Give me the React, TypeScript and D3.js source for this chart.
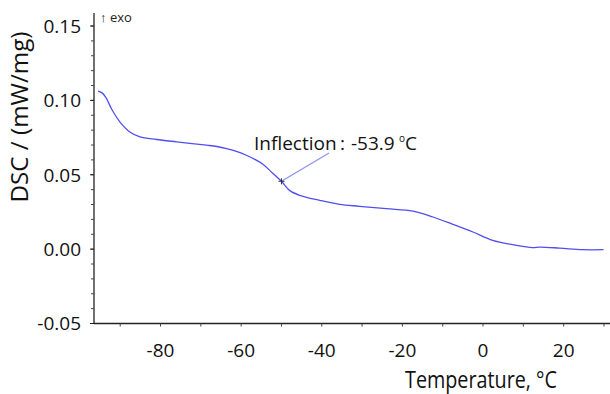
import React from 'react';
import * as d3 from 'd3';

// DSC trace
const temperature = [
	-95.5, -94.6, -93.6, -92.1, -90.1, -87.6, -85.1, -81.0, -76.0, -68.6, -66.0, -63.6, -61.0, -58.7,
	-56.6, -54.6, -52.3, -50.0, -48.0, -45.5, -40.5, -35.6, -30.6, -24.0, -17.4, -12.4, -7.5, -2.5, 2.4,
	7.4, 12.3, 14.0, 19.0, 24.7, 29.9,
];
const dsc = [
	0.1062, 0.1052, 0.1022, 0.0940, 0.0856, 0.0788, 0.0755, 0.0737, 0.0721, 0.0699, 0.0690, 0.0676,
	0.0656, 0.0631, 0.0603, 0.0571, 0.0514, 0.0456, 0.0395, 0.0362, 0.0328, 0.0301, 0.0288, 0.0272,
	0.0256, 0.0216, 0.0167, 0.0115, 0.0059, 0.0030, 0.0010, 0.0014, 0.0007, -0.0004, -0.0004,
];
const yTicks = [-0.05, 0, 0.05, 0.1, 0.15];
const xTicks = [-80, -60, -40, -20, 0, 20];
const inflection = { t: -50.0, v: 0.0456, label: '-53.9' };

export default function App() {
	const width = 610,
		height = 394;
	const x = d3.scaleLinear().domain([-96.5, 31.5]).range([94, 610]);
	const y = d3.scaleLinear().domain([-0.05, 0.15]).range([323.5, 26]);
	const yTop = y.invert(13);

	const points = temperature.map((t, i) => [t, dsc[i]] as [number, number]);
	const line = d3
		.line<[number, number]>()
		.x((d) => x(d[0]))
		.y((d) => y(d[1]))
		.curve(d3.curveCatmullRom.alpha(0.5));

	const yMinor = d3.range(-0.05, 0.1501, 0.01);
	const xMinor = d3.range(-90, 31, 10);
	const font = "'Open Sans', sans-serif";
	const fmt = (v: number) => d3.format('.2f')(v).replace('\u2212', '-');
	const ix = x(inflection.t),
		iy = y(inflection.v);

	return (
		<svg
			width={width}
			height={height}
			style={{ position: 'absolute', left: 0, top: 0, background: '#fff' }}
			fontFamily={font}
		>
			{/* axes */}
			<line x1={x.range()[0]} x2={x.range()[0]} y1={y(yTop)} y2={y(-0.05)} stroke="#222" strokeWidth={1.3} />
			<line x1={x.range()[0]} x2={x.range()[1]} y1={y(-0.05)} y2={y(-0.05)} stroke="#222" strokeWidth={1.3} />
			{yMinor.map((v, i) => (
				<line key={'ym' + i} x1={x.range()[0] - 3} x2={x.range()[0]} y1={y(v)} y2={y(v)} stroke="#444" strokeWidth={1} />
			))}
			{yTicks.map((v) => (
				<g key={'y' + v}>
					<line x1={x.range()[0] - 4} x2={x.range()[0]} y1={y(v)} y2={y(v)} stroke="#222" strokeWidth={1} />
					<text x={81} y={y(v)} dy="0.36em" textAnchor="end" fontSize={19} fill="#111">
						{fmt(v)}
					</text>
				</g>
			))}
			{xMinor.map((t) => (
				<line key={'xm' + t} x1={x(t)} x2={x(t)} y1={y(-0.05)} y2={y(-0.05) + 3} stroke="#444" strokeWidth={1} />
			))}
			{xTicks.map((t) => (
				<text key={'x' + t} x={x(t)} y={357} textAnchor="middle" fontSize={19} fill="#111">
					{t}
				</text>
			))}

			{/* labels */}
			<text
				transform={`translate(28,${117}) rotate(-90)`}
				textAnchor="middle"
				fontSize={23}
				fill="#111"
				textLength={171}
				lengthAdjust="spacingAndGlyphs"
			>
				DSC / (mW/mg)
			</text>
			<text x={405} y={388} fontSize={23} fill="#111" textLength={152} lengthAdjust="spacingAndGlyphs">
				Temperature, °C
			</text>
			<text x={100} y={22} fontSize={13} fill="#222">
				↑ exo
			</text>

			{/* curve */}
			<path d={line(points) || ''} fill="none" stroke="#4f4ff0" strokeWidth={1.3} />

			{/* inflection annotation */}
			<line x1={ix} y1={iy} x2={329} y2={153} stroke="#8c8ef6" strokeWidth={1.2} />
			<path d={`M${ix - 3},${iy}h6M${ix},${iy - 3}v6`} stroke="#333" strokeWidth={1} />
			<text x={254} y={150} fontSize={19} fill="#111">
				Inflection
				<tspan x={340}>:</tspan>
				<tspan x={351}>{inflection.label}</tspan>
				<tspan x={399} dy={-8} fontSize={10}>o</tspan>
				<tspan dy={8}>C</tspan>
			</text>
		</svg>
	);
}
